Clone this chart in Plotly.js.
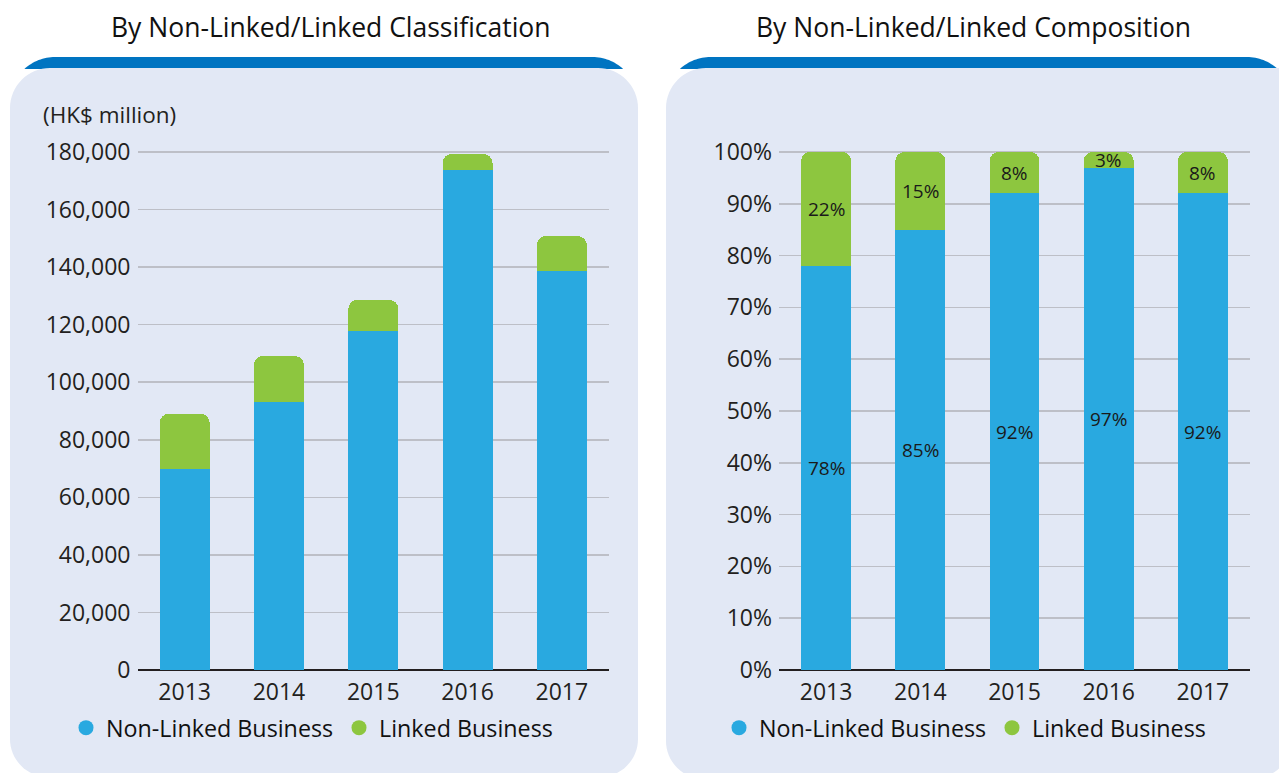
<!DOCTYPE html>
<html>
<head>
<meta charset="utf-8">
<script src="https://cdn.plot.ly/plotly-3.0.1.min.js"></script>
<style>
  html, body { margin: 0; padding: 0; background: #ffffff; }
  #chart { width: 1279px; height: 773px; }
</style>
</head>
<body>
<div id="chart"></div>
<script>
// ---- data ----
const years = ['2013', '2014', '2015', '2016', '2017'];
const nonLinkedAmount = [69800, 93100, 117800, 173700, 138600];   // HK$ million
const linkedAmount = [19200, 16000, 10800, 5600, 12200];           // HK$ million
const nonLinkedPct = [78, 85, 92, 97, 92];
const linkedPct = [22, 15, 8, 3, 8];
const seriesNames = ['Non-Linked Business', 'Linked Business'];
const chartTitles = ['By Non-Linked/Linked Classification', 'By Non-Linked/Linked Composition'];
const unitLabel = '(HK$ million)';

// ---- style ----
const W = 1279, H = 773;
const BLUE = '#29a9e0', GREEN = '#8dc63f', PANEL = '#e2e8f5', BAND = '#0074c1';
const TXT = '#231f20', GRID = '#bdbfc7';
const FONT = 'Open Sans, Noto Sans, sans-serif';
const px = x => x / W;
const py = y => 1 - y / H;
const pt = (x, y) => px(x).toFixed(5) + ',' + py(y).toFixed(5);

function arc(cx, cy, r, a0, a1, n) {
  const out = [];
  for (let i = 0; i <= n; i++) {
    const a = a0 + (a1 - a0) * i / n;
    out.push([cx + r * Math.cos(a), cy + r * Math.sin(a)]);
  }
  return out;
}
function roundRect(x0, y0, x1, y1, r) { // r = [tl, tr, br, bl]
  let p = [];
  p = p.concat(arc(x1 - r[1], y0 + r[1], r[1], -Math.PI / 2, 0, 16));
  p = p.concat(arc(x1 - r[2], y1 - r[2], r[2], 0, Math.PI / 2, 16));
  p = p.concat(arc(x0 + r[3], y1 - r[3], r[3], Math.PI / 2, Math.PI, 16));
  p = p.concat(arc(x0 + r[0], y0 + r[0], r[0], Math.PI, 1.5 * Math.PI, 16));
  return 'M' + p.map(q => pt(q[0], q[1])).join(' L') + ' Z';
}
function band(x0, x1, yT, yB, R) {
  const cy = yT + R;
  const dx = Math.sqrt(R * R - (cy - yB) * (cy - yB));
  const aL = Math.atan2(yB - cy, -dx), aR = Math.atan2(yB - cy, dx);
  let p = arc(x0 + R, cy, R, aL, -Math.PI / 2, 16);
  p = p.concat(arc(x1 - R, cy, R, -Math.PI / 2, aR, 16));
  return 'M' + p.map(q => pt(q[0], q[1])).join(' L') + ' Z';
}
const shp = (path, color) => ({type: 'path', xref: 'paper', yref: 'paper', path: path,
  fillcolor: color, line: {width: 0}, layer: 'below'});

const shapes = [
  shp(band(10, 637.5, 57, 69, 45), BAND),
  shp(roundRect(10, 68, 638, 777, [40, 40, 38, 38]), PANEL),
  shp(band(665.5, 1292, 57, 69, 45), BAND),
  shp(roundRect(666, 68, 1292, 779, [40, 12, 40, 38]), PANEL)
];

// ---- traces ----
const barW = 0.53;
const traces = [
  {type: 'bar', x: years, y: nonLinkedAmount, name: seriesNames[0], marker: {color: BLUE},
   width: barW, xaxis: 'x', yaxis: 'y', showlegend: false, hoverinfo: 'skip'},
  {type: 'bar', x: years, y: linkedAmount, name: seriesNames[1], marker: {color: GREEN},
   width: barW, xaxis: 'x', yaxis: 'y', showlegend: false, hoverinfo: 'skip'},
  {type: 'bar', x: years, y: nonLinkedPct, name: seriesNames[0], marker: {color: BLUE},
   width: barW, xaxis: 'x2', yaxis: 'y2', showlegend: false, hoverinfo: 'skip'},
  {type: 'bar', x: years, y: linkedPct, name: seriesNames[1], marker: {color: GREEN},
   width: barW, xaxis: 'x2', yaxis: 'y2', showlegend: false, hoverinfo: 'skip'}
];
// legend entries (circle symbols)
[['legend', 'x', 'y'], ['legend2', 'x2', 'y2']].forEach(([lg, xa, ya]) => {
  [BLUE, GREEN].forEach((c, i) => traces.push({
    type: 'scatter', mode: 'markers', x: [null], y: [null], name: seriesNames[i],
    marker: {color: c, size: 15, symbol: 'circle'}, legend: lg, xaxis: xa, yaxis: ya,
    showlegend: true, hoverinfo: 'skip'
  }));
});

// ---- annotations ----
const annotations = [
  {text: chartTitles[0], xref: 'paper', yref: 'paper', x: px(331), y: py(27),
   xanchor: 'center', yanchor: 'middle', showarrow: false, font: {family: FONT, size: 26.5, color: '#111'}},
  {text: chartTitles[1], xref: 'paper', yref: 'paper', x: px(973), y: py(27),
   xanchor: 'center', yanchor: 'middle', showarrow: false, font: {family: FONT, size: 26.5, color: '#111'}},
  {text: unitLabel, xref: 'paper', yref: 'paper', x: px(41), y: py(115),
   xanchor: 'left', yanchor: 'middle', showarrow: false, font: {family: FONT, size: 22.5, color: TXT}}
];
years.forEach((yr, i) => {
  annotations.push({text: nonLinkedPct[i] + '%', xref: 'x2', yref: 'y2', x: i, y: nonLinkedPct[i] / 2,
    showarrow: false, xanchor: 'center', yanchor: 'middle', font: {family: FONT, size: 19, color: '#1a1a1a'}});
  annotations.push({text: linkedPct[i] + '%', xref: 'x2', yref: 'y2', x: i,
    y: nonLinkedPct[i] + linkedPct[i] / 2,
    showarrow: false, xanchor: 'center', yanchor: 'middle', font: {family: FONT, size: 19, color: '#1a1a1a'}});
});

// ---- axes ----
const y0px = 670, yTopPx = 152; // 0 and max gridline pixel rows
const leftMax = 181000, rightMax = 100.5;
const topLeft = y0px - (y0px - yTopPx) * leftMax / 180000;
const topRight = y0px - (y0px - yTopPx) * rightMax / 100;
const tickFont = {family: FONT, size: 23, color: TXT};
const xCommon = {type: 'category', range: [-0.5, 4.5], showgrid: false, showline: false,
  ticks: '', tickfont: tickFont, ticklabelstandoff: 6, fixedrange: true};
const yCommon = {showgrid: true, gridcolor: GRID, gridwidth: 1.5, zeroline: true,
  zerolinecolor: TXT, zerolinewidth: 1.5, showline: false, ticks: '', tickfont: tickFont,
  ticklabelstandoff: 6, fixedrange: true};

const layout = {
  width: W, height: H,
  margin: {l: 0, r: 0, t: 0, b: 0},
  paper_bgcolor: '#ffffff', plot_bgcolor: 'rgba(0,0,0,0)',
  barmode: 'stack', barcornerradius: 9,
  font: {family: FONT, color: TXT},
  xaxis: Object.assign({}, xCommon, {domain: [px(137.5), px(609)], anchor: 'y'}),
  yaxis: Object.assign({}, yCommon, {domain: [py(y0px), py(topLeft)], anchor: 'x',
    range: [0, leftMax], tick0: 0, dtick: 20000, tickformat: ','}),
  xaxis2: Object.assign({}, xCommon, {domain: [px(779), px(1250)], anchor: 'y2'}),
  yaxis2: Object.assign({}, yCommon, {domain: [py(y0px), py(topRight)], anchor: 'x2',
    range: [0, rightMax], tick0: 0, dtick: 10, ticksuffix: '%'}),
  legend: {orientation: 'h', x: px(66), xanchor: 'left', y: py(728), yanchor: 'middle',
    bgcolor: 'rgba(0,0,0,0)', borderwidth: 0, font: {family: FONT, size: 23.3, color: '#111'},
    itemwidth: 30, entrywidth: 228, traceorder: 'normal'},
  legend2: {orientation: 'h', x: px(719), xanchor: 'left', y: py(728), yanchor: 'middle',
    bgcolor: 'rgba(0,0,0,0)', borderwidth: 0, font: {family: FONT, size: 23.3, color: '#111'},
    itemwidth: 30, entrywidth: 228, traceorder: 'normal'},
  shapes: shapes,
  annotations: annotations,
  showlegend: true
};

Plotly.newPlot('chart', traces, layout, {displayModeBar: false, staticPlot: true});
</script>
</body>
</html>
